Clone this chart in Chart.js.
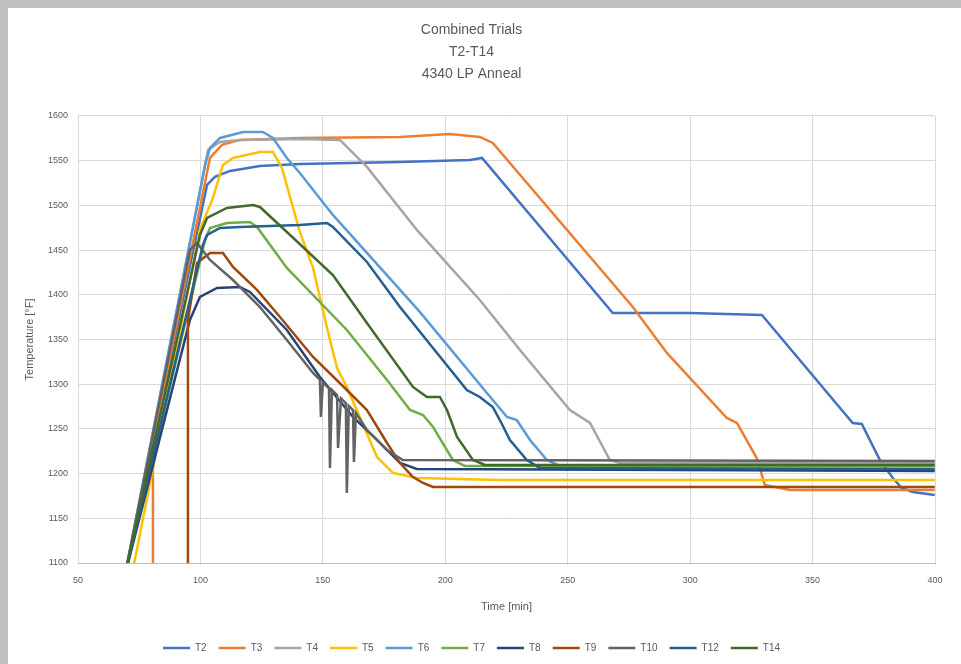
<!DOCTYPE html>
<html lang="en">
<head>
    <meta charset="UTF-8">
    <title>Combined Trials T2-T14</title>
    <script src="https://cdn.jsdelivr.net/npm/chart.js"></script>
    <style>
        body {
            margin: 0;
            padding: 0;
            background-color: #bfbfbf;
            font-family: "Liberation Sans", Arial, sans-serif;
        }
        .container {
            position: absolute;
            left: 8px;
            top: 8px;
            width: 953px;
            height: 656px;
            background-color: #fff;
        }
    </style>
</head>
<body>
    <div class="container">
        <canvas id="trialChart" width="953" height="656"></canvas>
    </div>

    <script>
        // series names and colours (Excel default line palette)
        var seriesNames = ['T2', 'T3', 'T4', 'T5', 'T6', 'T7', 'T8', 'T9', 'T10', 'T12', 'T14'];
        var seriesColors = ['#4472C4', '#ED7D31', '#A5A5A5', '#FFC000', '#5B9BD5', '#70AD47',
                            '#264478', '#9E480E', '#636363', '#255E91', '#43682B'];

        // time [min] / temperature [F]
        var t2Time = [69.2, 102.7, 105.9, 112.1, 124.3, 140.6, 181.5, 210.1, 215.0, 268.4, 299.9, 329.3, 366.4, 370.1, 377.5, 382.8, 386.4, 390.9, 399.9];
        var t2Temp = [1086.6, 1522.8, 1531.8, 1538.5, 1544.1, 1546.3, 1548.5, 1550.8, 1553.0, 1379.6, 1379.6, 1377.4, 1256.6, 1255.5, 1215.2, 1195.1, 1183.9, 1179.4, 1176.0];

        var t3Time = [80.6, 80.6, 81.4, 103.9, 108.8, 116.1, 140.6, 181.5, 201.9, 214.1, 219.4, 276.6, 290.5, 315.0, 319.1, 327.2, 330.5, 340.7, 399.9];
        var t3Temp = [1036.0, 1215.2, 1246.5, 1553.0, 1567.6, 1573.2, 1575.4, 1576.5, 1579.9, 1576.5, 1569.8, 1386.4, 1334.9, 1262.2, 1256.6, 1217.4, 1187.2, 1181.6, 1181.6];

        var t4Time = [69.2, 103.1, 108.0, 116.1, 140.6, 157.0, 168.0, 188.4, 214.1, 230.5, 250.9, 259.1, 267.2, 271.3, 399.9];
        var t4Temp = [1086.6, 1562.0, 1570.9, 1573.2, 1574.3, 1573.2, 1543.0, 1472.5, 1394.2, 1338.2, 1271.1, 1256.6, 1215.2, 1211.9, 1211.9];

        var t5Time = [72.0, 99.8, 105.1, 109.2, 113.3, 124.3, 129.6, 133.3, 140.6, 146.0, 151.7, 155.8, 159.8, 165.1, 172.1, 178.6, 188.4, 222.3, 399.9];
        var t5Temp = [1086.6, 1472.5, 1508.3, 1545.2, 1553.0, 1559.7, 1559.7, 1541.8, 1470.2, 1430.0, 1362.9, 1318.1, 1296.9, 1263.3, 1218.6, 1200.7, 1195.1, 1192.8, 1192.8];

        var t6Time = [69.2, 101.9, 103.9, 108.0, 117.4, 125.5, 129.6, 135.3, 140.6, 154.1, 189.6, 217.0, 225.2, 229.2, 234.6, 241.5, 246.8, 399.9];
        var t6Temp = [1086.6, 1545.2, 1564.2, 1575.4, 1582.1, 1582.1, 1575.4, 1553.0, 1536.2, 1489.3, 1380.8, 1290.2, 1263.3, 1259.9, 1237.6, 1215.2, 1208.5, 1208.5];

        var t7Time = [69.2, 101.9, 103.9, 110.8, 120.2, 123.1, 135.3, 159.8, 176.2, 185.6, 190.9, 195.0, 203.1, 208.0, 399.9];
        var t7Temp = [1086.6, 1461.3, 1474.7, 1480.3, 1481.4, 1475.8, 1430.0, 1360.6, 1304.7, 1271.1, 1265.5, 1252.1, 1215.2, 1208.5, 1208.5];

        var t8Time = [69.2, 95.7, 99.8, 106.8, 116.1, 120.2, 135.3, 148.8, 162.3, 172.1, 181.5, 188.4, 399.9];
        var t8Temp = [1086.6, 1371.8, 1397.5, 1407.6, 1408.7, 1403.1, 1360.6, 1308.0, 1263.3, 1237.6, 1211.9, 1205.1, 1202.9];

        var t9Time = [94.9, 94.9, 98.6, 103.9, 109.2, 113.3, 123.1, 132.5, 146.0, 159.8, 168.0, 176.2, 181.5, 186.8, 190.9, 195.0, 399.9];
        var t9Temp = [1058.0, 1371.8, 1435.6, 1446.8, 1446.8, 1431.1, 1405.4, 1375.2, 1330.4, 1293.5, 1271.1, 1234.2, 1211.9, 1196.2, 1189.5, 1185.0, 1185.0];

        var t10Time = [69.2, 95.7, 98.6, 103.9, 113.3, 124.3, 135.3, 146.0, 148.8, 149.2, 150.0, 152.5, 152.9, 153.7, 155.8, 156.2, 157.4, 159.4, 159.8, 160.6, 162.3, 162.7, 163.5, 168.0, 176.2, 182.7, 399.9];
        var t10Temp = [1086.6, 1450.1, 1457.9, 1438.9, 1416.5, 1386.3, 1349.4, 1312.5, 1304.7, 1263.3, 1301.3, 1295.7, 1206.3, 1293.5, 1287.9, 1228.6, 1284.2, 1278.6, 1178.3, 1275.6, 1271.1, 1212.9, 1267.8, 1248.8, 1226.4, 1215.2, 1214.1];

        var t12Time = [69.2, 101.0, 102.7, 108.0, 116.1, 140.6, 151.7, 154.1, 168.0, 181.5, 208.8, 214.1, 219.4, 222.3, 226.4, 233.3, 238.7, 399.9];
        var t12Temp = [1086.6, 1455.7, 1466.9, 1474.7, 1475.8, 1478.1, 1480.3, 1475.8, 1436.7, 1386.3, 1293.5, 1285.7, 1274.5, 1259.9, 1237.6, 1215.2, 1206.3, 1205.1];

        var t14Time = [69.2, 99.8, 102.7, 110.8, 121.5, 124.3, 135.3, 154.1, 168.0, 186.8, 192.5, 197.8, 200.7, 204.8, 211.3, 216.2, 399.9];
        var t14Temp = [1086.6, 1466.9, 1485.9, 1497.1, 1500.4, 1498.2, 1470.2, 1422.1, 1368.4, 1296.9, 1285.7, 1285.7, 1271.1, 1240.9, 1215.2, 1209.6, 1209.6];

        var seriesTimes = [t2Time, t3Time, t4Time, t5Time, t6Time, t7Time, t8Time, t9Time, t10Time, t12Time, t14Time];
        var seriesTemps = [t2Temp, t3Temp, t4Temp, t5Temp, t6Temp, t7Temp, t8Temp, t9Temp, t10Temp, t12Temp, t14Temp];

        // axis ticks
        var timeTicks = [50, 100, 150, 200, 250, 300, 350, 400];
        var tempTicks = [1100, 1150, 1200, 1250, 1300, 1350, 1400, 1450, 1500, 1550, 1600];

        var textColor = '#595959';
        var fontFamily = '"Liberation Sans", Arial, sans-serif';

        var datasets = seriesNames.map(function(name, i) {
            return {
                label: name,
                data: seriesTimes[i].map(function(t, j) { return {x: t, y: seriesTemps[i][j]}; }),
                borderColor: seriesColors[i],
                backgroundColor: seriesColors[i],
                borderWidth: 2.5,
                pointRadius: 0,
                tension: 0,
                // later series on top, like Excel
                order: seriesNames.length - i
            };
        });

        var ctx = document.getElementById('trialChart').getContext('2d');
        window.trialChart = new Chart(ctx, {
            type: 'line',
            data: { datasets: datasets },
            options: {
                responsive: false,
                animation: false,
                layout: { padding: { left: 0, right: 26, top: 0, bottom: 1 } },
                plugins: {
                    title: {
                        display: true,
                        text: ['Combined Trials', 'T2-T14', '4340 LP Anneal'],
                        color: textColor,
                        font: { family: fontFamily, size: 14, weight: 'normal', lineHeight: 1.57 },
                        padding: { top: 11, bottom: 31 }
                    },
                    legend: {
                        position: 'bottom',
                        labels: {
                            color: textColor,
                            font: { family: fontFamily, size: 10 },
                            usePointStyle: true,
                            pointStyle: 'line',
                            pointStyleWidth: 27,
                            padding: 12,
                            sort: function(a, b) { return a.datasetIndex - b.datasetIndex; }
                        }
                    },
                    tooltip: { enabled: false }
                },
                scales: {
                    x: {
                        type: 'linear',
                        min: 50,
                        max: 400,
                        afterBuildTicks: function(scale) {
                            scale.ticks = timeTicks.map(function(v) { return {value: v}; });
                        },
                        afterFit: function(scale) { scale.height = 68; },
                        grid: { color: '#d9d9d9', drawTicks: false },
                        border: { color: '#bfbfbf', width: 1 },
                        ticks: {
                            color: textColor,
                            font: { family: fontFamily, size: 9 },
                            padding: 12,
                            maxRotation: 0,
                            callback: function(v) { return String(v); }
                        },
                        title: {
                            display: true,
                            text: 'Time [min]',
                            color: textColor,
                            font: { family: fontFamily, size: 11 },
                            padding: { top: 0, bottom: 17 }
                        }
                    },
                    y: {
                        min: 1100,
                        max: 1600,
                        afterBuildTicks: function(scale) {
                            scale.ticks = tempTicks.map(function(v) { return {value: v}; });
                        },
                        afterFit: function(scale) { scale.width = 70; },
                        grid: { color: '#d9d9d9', drawTicks: false },
                        border: { display: false },
                        ticks: {
                            color: textColor,
                            font: { family: fontFamily, size: 9 },
                            padding: 10,
                            callback: function(v) { return String(v); }
                        },
                        title: {
                            display: true,
                            text: 'Temperature [°F]',
                            color: textColor,
                            font: { family: fontFamily, size: 11 },
                            padding: { top: 15, bottom: 0 }
                        }
                    }
                }
            }
        });
    </script>
</body>
</html>
